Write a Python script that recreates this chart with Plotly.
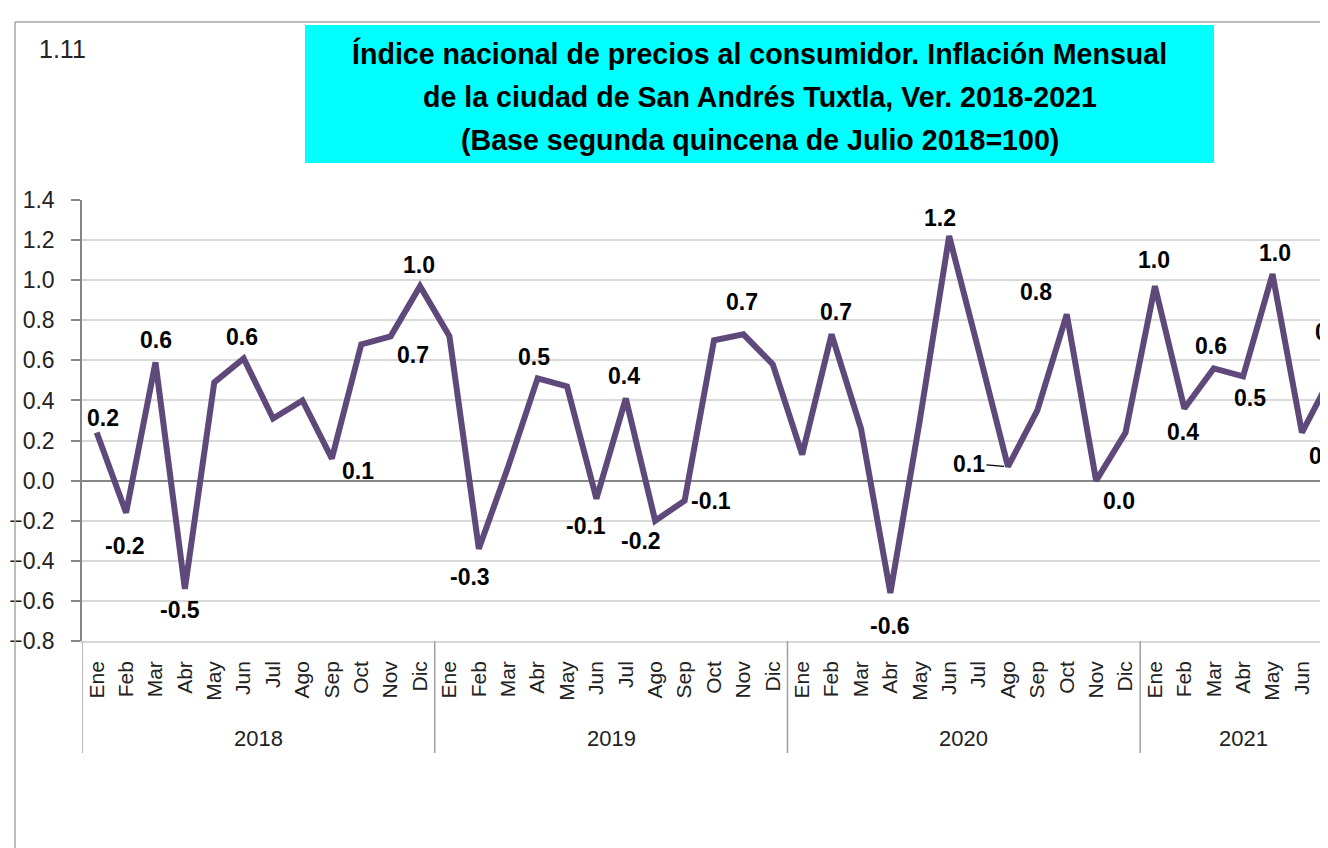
import plotly.graph_objects as go

# ---------------- data ----------------
years = ["2018"] * 12 + ["2019"] * 12 + ["2020"] * 12 + ["2021"] * 7
months = (["Ene", "Feb", "Mar", "Abr", "May", "Jun", "Jul", "Ago", "Sep", "Oct", "Nov", "Dic"] * 3
          + ["Ene", "Feb", "Mar", "Abr", "May", "Jun", "Jul"])
inflation = [
    0.24, -0.16, 0.59, -0.54, 0.49, 0.61, 0.31, 0.40, 0.11, 0.68, 0.72, 0.97,
    0.72, -0.34, 0.07, 0.51, 0.47, -0.09, 0.41, -0.20, -0.10, 0.70, 0.73, 0.58,
    0.13, 0.73, 0.26, -0.56, 0.30, 1.22, 0.65, 0.07, 0.35, 0.83, 0.00, 0.24,
    0.97, 0.36, 0.56, 0.52, 1.03, 0.24, 0.52,
]
title_lines = [
    "Índice nacional de precios al consumidor. Inflación Mensual",
    "de la ciudad de San Andrés Tuxtla, Ver. 2018-2021",
    "(Base segunda quincena de Julio 2018=100)",
]
chart_number = "1.11"

# ---------------- style (label offsets in px: dx, dy-down) ----------------
label_offsets = [
    (6, -15), (-1, 33), (1, -22), (-5, 21), None, (-2, -21), None, None, (26, 12), None, (22, 19), (-1, -21),
    None, (-9, 28), None, (-4, -21), None, (-10, 27), (-2, -22), (-14, 20), (26, 0), None, (-1, -32), None,
    None, (4, -22), None, (0, 33), None, (-9, -18), None, (-39, -3), None, (-31, -22), (23, 20), None,
    (-1, -26), (-1, 24), (-3, -22), (7, 22), (2, -21), (23, 23), (0, -44),
]
leader_idx = {31}

OFF = 8                      # page body margin
W, H = 1338, 848
L, T, R = 74, 192, 0
B = H - (641 - OFF)
FONT = "Liberation Sans, Arial, sans-serif"
LINE_COLOR = "#5F497A"


def px_x(s):
    return (s - OFF - L) / (W - L - R)


def px_y(s):
    return (H - B - (s - OFF)) / (H - T - B)


n = len(inflation)
x = list(range(n))

fig = go.Figure()
fig.add_trace(go.Scatter(
    x=x, y=inflation, mode="lines",
    line=dict(color=LINE_COLOR, width=6),
    hoverinfo="skip", showlegend=False,
))

annotations = []
for i, (v, off) in enumerate(zip(inflation, label_offsets)):
    if off is None:
        continue
    dx, dy = off
    txt = f"{v:.1f}"
    if i in leader_idx:
        annotations.append(dict(
            x=i, y=v, xref="x", yref="y", text=txt, showarrow=True,
            ax=dx, ay=dy, arrowhead=0, arrowwidth=1.2, arrowcolor="#000000", standoff=4,
            font=dict(family=FONT, size=23, color="#000000", weight="bold"),
        ))
    else:
        annotations.append(dict(
            x=i, y=v, xref="x", yref="y", text=txt, showarrow=False,
            xshift=dx, yshift=-dy,
            font=dict(family=FONT, size=23, color="#000000", weight="bold"),
        ))

# year groups
shapes = []
groups = []
for i, yv in enumerate(years):
    if not groups or groups[-1][0] != yv:
        groups.append([yv, i, i])
    else:
        groups[-1][2] = i
for yv, s, e in groups:
    annotations.append(dict(
        x=(s + e) / 2, y=0, xref="x", yref="paper", yanchor="middle",
        yshift=-97, text=yv, showarrow=False,
        font=dict(family=FONT, size=22, color="#222222"),
    ))
    shapes.append(dict(
        type="line", xref="x", yref="paper", x0=s - 0.5, x1=s - 0.5,
        ysizemode="pixel", yanchor=0, y0=0, y1=-112,
        line=dict(color="#a0a0a0", width=1.5),
    ))

# outer frame
shapes.append(dict(type="line", xref="paper", yref="paper",
                   x0=px_x(15), x1=px_x(15), y0=px_y(22), y1=px_y(H + OFF),
                   line=dict(color="#a6a6a6", width=1.5)))
shapes.append(dict(type="line", xref="paper", yref="paper",
                   x0=px_x(15), x1=px_x(W + OFF), y0=px_y(22), y1=px_y(22),
                   line=dict(color="#a6a6a6", width=1.5)))
# title box
shapes.append(dict(type="rect", xref="paper", yref="paper",
                   x0=px_x(305), x1=px_x(1214), y0=px_y(163), y1=px_y(25),
                   fillcolor="#00FFFF", line=dict(width=0)))
for line_txt, cy in zip(title_lines, [53, 97, 140]):
    annotations.append(dict(
        x=px_x(759.5), y=px_y(cy), xref="paper", yref="paper",
        xanchor="center", yanchor="middle", text=line_txt, showarrow=False,
        font=dict(family=FONT, size=28.6, color="#000000", weight="bold"),
    ))
annotations.append(dict(
    x=px_x(37), y=px_y(49), xref="paper", yref="paper",
    xanchor="left", yanchor="middle", text=chart_number, showarrow=False,
    font=dict(family=FONT, size=25, color="#222222"),
))

fig.update_layout(
    width=W, height=H,
    margin=dict(l=L, r=R, t=T, b=B, pad=0),
    paper_bgcolor="white", plot_bgcolor="white",
    shapes=shapes, annotations=annotations,
    showlegend=False,
    xaxis=dict(
        range=[-0.5, n - 0.5],
        tickmode="array", tickvals=x, ticktext=months, tickangle=-90,
        tickfont=dict(family=FONT, size=21, color="#222222"),
        ticks="", showgrid=False, zeroline=False,
        showline=True, linecolor="#d9d9d9", linewidth=1.5,
        ticklabelstandoff=10,
    ),
    yaxis=dict(
        range=[-0.8, 1.4], tickmode="linear", tick0=-0.8, dtick=0.2, tickformat=".1f",
        tickfont=dict(family=FONT, size=23, color="#222222"),
        showgrid=True, gridcolor="#d9d9d9", gridwidth=1.5,
        zeroline=True, zerolinecolor="#868686", zerolinewidth=2,
        showline=True, linecolor="#868686", linewidth=1.5,
        ticks="outside", ticklen=9, tickcolor="#868686", tickwidth=1.5,
        ticklabelstandoff=12,
    ),
)

fig.write_html("out.html")
